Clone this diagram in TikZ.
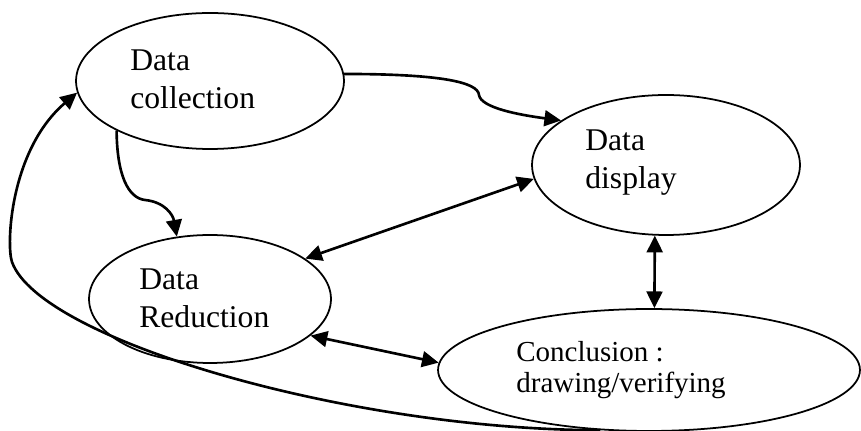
\documentclass[tikz,border=0pt]{standalone}
\usepackage{fontspec}
\setmainfont{Liberation Serif}
\usetikzlibrary{shapes.geometric,arrows.meta}

\begin{document}
\begin{tikzpicture}[x=0.02cm, y=-0.02cm,
  stage/.style={ellipse, draw, line width=1pt, inner sep=0pt},
  stagetext/.style={anchor=base west, align=left, inner sep=0pt, font=\fontsize{18}{21.9}\selectfont},
  flow/.style={line width=1.5pt, -{Triangle[length=9.5pt,width=9pt]}},
  twoway/.style={line width=1.5pt, {Triangle[length=9.5pt,width=9pt]}-{Triangle[length=9.5pt,width=9pt]}}]
\useasboundingbox (0,0) rectangle (861,431);
\node[stage, minimum width=5.36cm, minimum height=2.72cm] (collect) at (210,81) {};
\node[stage, minimum width=5.36cm, minimum height=2.8cm] (display) at (666,165) {};
\node[stage, minimum width=4.84cm, minimum height=2.56cm] (reduce) at (210,299) {};
\node[stage, minimum width=8.44cm, minimum height=2.44cm] (concl) at (649,370) {};
\node[stagetext] (collecttxt) at (130,109) {Data\\collection};
\node[stagetext] (displaytxt) at (585,189) {Data\\display};
\node[stagetext] (reducetxt) at (139,328) {Data\\Reduction};
\node[stagetext, font=\fontsize{16.5}{18.2}\selectfont] (concltxt) at (516,393) {Conclusion :\\drawing/verifying};
\draw[flow] (collect.3) .. controls (440,74) and (478,82) .. (479,95) .. controls (481,108) and (520,115) .. (display.157);
\draw[flow] (collect.208) .. controls (117,175) and (128,198) .. (145,200) .. controls (165,202) and (173,215) .. (reduce.118);
\draw[twoway] (display.186) -- (reduce.23);
\draw[twoway] (display.261) -- (concl.85);
\draw[twoway] (reduce.340) -- (concl.178);
\draw[flow] (concl.231) .. controls (350,430) and (40,340) .. (12,262) .. controls (6,245) and (10,150) .. (collect.185);
\end{tikzpicture}
\end{document}
